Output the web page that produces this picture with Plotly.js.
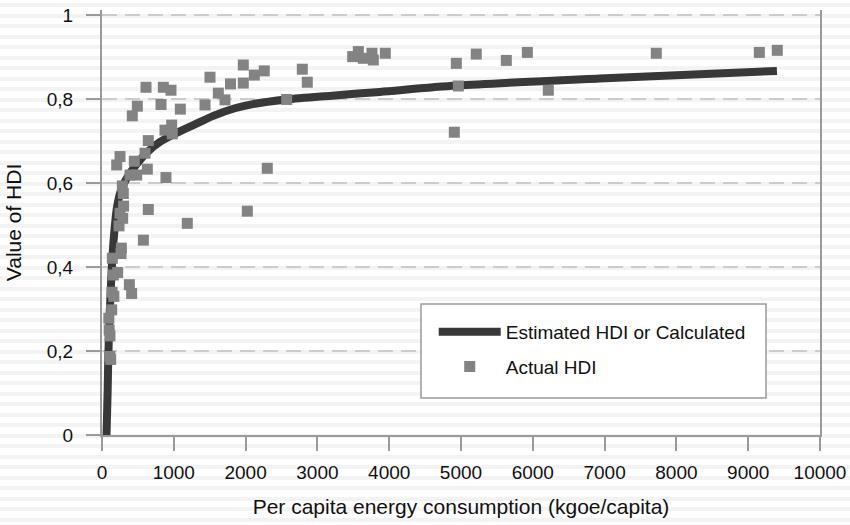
<!DOCTYPE html>
<html>
<head>
<meta charset="utf-8">
<script src="https://cdn.plot.ly/plotly-3.0.1.min.js"></script>
<style>
  html, body { margin: 0; padding: 0; }
  body {
    width: 850px; height: 525px; overflow: hidden;
    background: repeating-linear-gradient(to bottom, #ffffff 0px, #ffffff 3.3px, #f3f3f3 3.3px, #f3f3f3 7.3px, #ffffff 7.3px, #ffffff 10.5px);
  }
  #chart { width: 850px; height: 525px; }
</style>
</head>
<body>
<div id="chart"></div>
<script>
// Estimated HDI curve
var curveEnergy = [63, 72, 79, 88, 102, 118, 140, 171, 205, 250, 300, 350, 460, 620, 800, 1000, 1300, 1550, 1850, 2100, 2570, 3200, 3870, 4940, 6930, 9400];
var curveHDI    = [0, 0.06, 0.107, 0.186, 0.267, 0.33, 0.41, 0.483, 0.538, 0.575, 0.597, 0.613, 0.640, 0.672, 0.697, 0.716, 0.740, 0.760, 0.778, 0.788, 0.799, 0.808, 0.817, 0.832, 0.849, 0.867];

// Actual HDI points
var actualEnergy = [95, 100, 111, 110, 121, 135, 140, 165, 144, 158, 218, 270, 265, 381, 413, 237, 251, 300, 288, 297, 283, 390, 483, 205, 251, 450, 631, 599, 645, 891, 645, 576, 1188, 2024, 877, 970, 979, 422, 492, 613, 854, 961, 822, 1091, 1435, 1504, 1620, 1713, 1790, 1968, 1968, 2121, 2260, 2572, 2790, 2859, 2302, 3491, 3570, 3640, 3760, 3779, 3946, 4935, 4963, 4907, 5213, 5631, 5924, 6216, 7720, 9155, 9405];
var actualHDI    = [0.278, 0.250, 0.236, 0.187, 0.180, 0.298, 0.340, 0.330, 0.421, 0.381, 0.387, 0.445, 0.432, 0.358, 0.337, 0.498, 0.528, 0.545, 0.516, 0.575, 0.593, 0.619, 0.619, 0.643, 0.663, 0.652, 0.633, 0.671, 0.701, 0.613, 0.537, 0.464, 0.504, 0.533, 0.726, 0.738, 0.717, 0.760, 0.783, 0.828, 0.828, 0.821, 0.787, 0.776, 0.786, 0.852, 0.814, 0.798, 0.836, 0.881, 0.838, 0.857, 0.867, 0.799, 0.871, 0.840, 0.635, 0.901, 0.913, 0.897, 0.909, 0.893, 0.909, 0.885, 0.831, 0.721, 0.907, 0.892, 0.911, 0.821, 0.909, 0.911, 0.916];

// Tick labels
var xTickVals = [0, 1000, 2000, 3000, 4000, 5000, 6000, 7000, 8000, 9000, 10000];
var xTickText = ["0", "1000", "2000", "3000", "4000", "5000", "6000", "7000", "8000", "9000", "10000"];
var yTickVals = [0, 0.2, 0.4, 0.6, 0.8, 1];
var yTickText = ["0", "0,2", "0,4", "0,6", "0,8", "1"];

var seriesNames = ["Estimated HDI or Calculated", "Actual HDI"];

var FONT = '"Liberation Sans", Arial, Helvetica, sans-serif';

var traces = [
  {
    x: curveEnergy, y: curveHDI, type: 'scatter', mode: 'lines',
    name: seriesNames[0], legendgroup: 'a',
    line: { color: '#383838', width: 8, shape: 'spline', smoothing: 0.8 },
    hoverinfo: 'skip'
  },
  {
    x: actualEnergy, y: actualHDI, type: 'scatter', mode: 'markers',
    name: seriesNames[1], legendgroup: 'b',
    marker: { symbol: 'square', size: 11, color: '#838383' }
  }
];

var layout = {
  width: 850, height: 525,
  margin: { l: 102, r: 30, t: 10, b: 90 },
  paper_bgcolor: 'rgba(0,0,0,0)',
  plot_bgcolor: 'rgba(0,0,0,0)',
  font: { family: FONT, size: 19, color: '#111' },
  showlegend: true,
  legend: {
    x: 0.462, y: 0.287, xanchor: 'left', yanchor: 'top',
    bgcolor: 'rgba(0,0,0,0)', borderwidth: 0,
    font: { family: FONT, size: 19, color: '#111' },
    itemwidth: 62, tracegroupgap: 7, traceorder: 'grouped'
  },
  shapes: [
    // legend frame
    { type: 'rect', xref: 'paper', yref: 'paper', x0: 0.4443, x1: 0.9248, y0: 0.0871, y1: 0.3082,
      fillcolor: '#ffffff', line: { color: '#9a9a9a', width: 1.5 }, layer: 'above' }
  ],
  xaxis: {
    range: [0, 10000], tickvals: xTickVals, ticktext: xTickText,
    showgrid: false, zeroline: false,
    showline: true, linecolor: '#9a9a9a', linewidth: 2,
    ticks: 'outside', ticklen: 14, tickwidth: 2, tickcolor: '#9a9a9a',
    ticklabelstandoff: 5,
    tickfont: { family: FONT, size: 19, color: '#111' },
    title: { text: 'Per capita energy consumption (kgoe/capita)', font: { family: FONT, size: 21, color: '#111' }, standoff: 18 }
  },
  yaxis: {
    range: [0, 1.012], tickvals: yTickVals, ticktext: yTickText,
    showgrid: true, gridcolor: '#cccccc', gridwidth: 1.5, griddash: '15px,8px',
    zeroline: false,
    showline: true, mirror: true, linecolor: '#9a9a9a', linewidth: 2,
    ticks: 'outside', ticklen: 14, tickwidth: 2, tickcolor: '#9a9a9a',
    ticklabelstandoff: 9,
    tickfont: { family: FONT, size: 19, color: '#111' },
    title: { text: 'Value of HDI', font: { family: FONT, size: 21, color: '#111' }, standoff: 19 }
  }
};

Plotly.newPlot('chart', traces, layout, { displayModeBar: false, staticPlot: true });
</script>
</body>
</html>
